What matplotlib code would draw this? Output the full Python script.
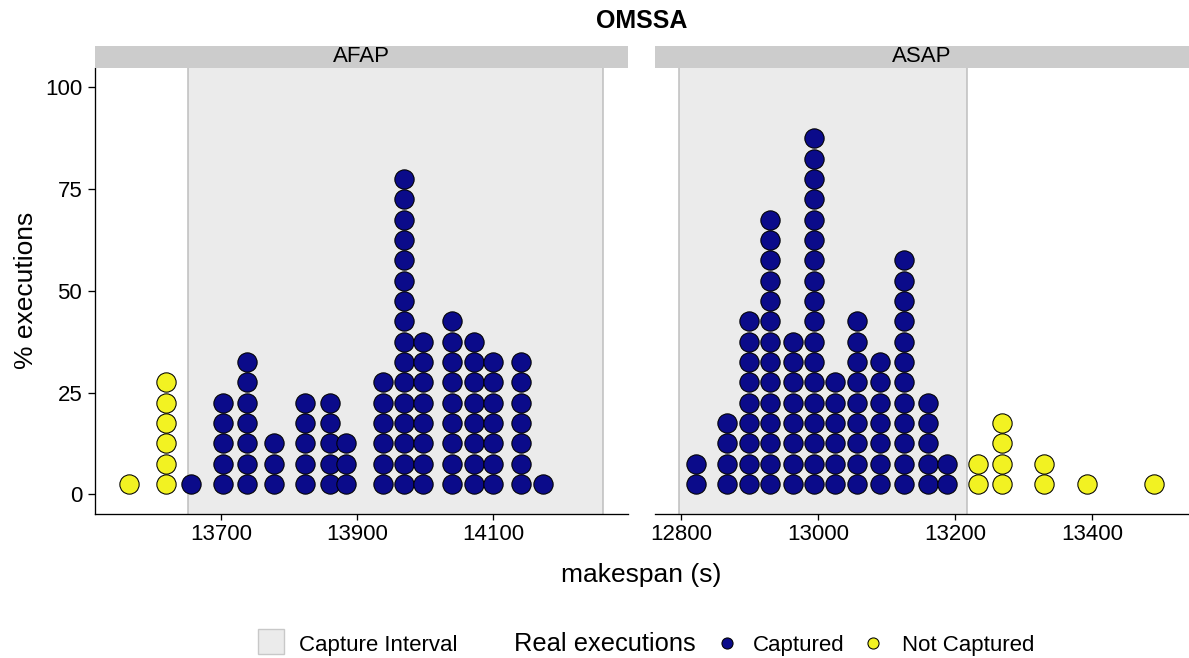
import matplotlib
matplotlib.use("Agg")
import matplotlib.pyplot as plt
from matplotlib.patches import Rectangle
from matplotlib.lines import Line2D
import numpy as np

plt.rcParams['font.family'] = ['Liberation Sans', 'DejaVu Sans']

# dot stacks: x position of each stack and number of dots in it
afap_captured_x = [13655, 13703, 13737.5, 13777, 13824, 13860, 13883.6, 13937.7,
                   13969, 13997.5, 14040, 14072.6, 14100, 14142, 14173.4]
afap_captured_n = [1, 5, 7, 3, 5, 5, 3, 6, 16, 8, 9, 8, 7, 7, 1]
afap_missed_x = [13564, 13618.4]
afap_missed_n = [1, 6]
afap_interval = [13650.4, 14262.3]
afap_ticks = [13700, 13900, 14100]

asap_captured_x = [12821.6, 12866.9, 12899, 12929.6, 12964, 12994, 13025.3,
                   13056.4, 13090, 13125.7, 13159.9, 13187.6]
asap_captured_n = [2, 4, 9, 14, 8, 18, 6, 9, 7, 12, 5, 2]
asap_missed_x = [13233.9, 13268, 13329.3, 13392, 13490.2]
asap_missed_n = [2, 4, 2, 1, 1]
asap_interval = [12797.5, 13218.2]
asap_ticks = [12800, 13000, 13200, 13400]

y_ticks = [0, 25, 50, 75, 100]
dot_step = 5

NAVY = '#0b0b8a'
YELLOW = '#f2f222'
W, H = 1189, 658


def fx(px):
    return px / W


def fy(py):
    return 1 - py / H


def draw_stacks(ax, xs, ns, color):
    for x, n in zip(xs, ns):
        ys = dot_step / 2 + dot_step * np.arange(n)
        ax.plot(np.full(n, x), ys, 'o', ms=13.9, mfc=color, mec='black', mew=0.75,
                zorder=3, clip_on=False)


def panel(ax, label, captured_x, captured_n, missed_x, missed_n, interval, ticks, xlim):
    ax.axvspan(interval[0], interval[1], facecolor='#ebebeb', edgecolor='none', zorder=0)
    for v in interval:
        ax.axvline(v, color='#bebebe', lw=1.1, zorder=1)
    draw_stacks(ax, missed_x, missed_n, YELLOW)
    draw_stacks(ax, captured_x, captured_n, NAVY)
    ax.set_xlim(*xlim)
    ax.set_ylim(-4.93, 104.85)
    ax.set_xticks(ticks)
    ax.set_xticklabels([str(t) for t in ticks])
    ax.set_yticks(y_ticks)
    for s in ['top', 'right']:
        ax.spines[s].set_visible(False)
    for s in ['left', 'bottom']:
        ax.spines[s].set_linewidth(0.95)
    ax.tick_params(axis='x', length=4.5, width=0.95, pad=2.5, labelsize=16)
    ax.tick_params(axis='y', length=4.7, width=0.95, pad=4.7, labelsize=16)

    # facet strip
    pos = ax.get_position()
    strip = fig.add_axes([pos.x0, fy(67.7), pos.width, (67.7 - 46) / H])
    strip.set_facecolor('#cccccc')
    strip.set_xticks([])
    strip.set_yticks([])
    for s in strip.spines.values():
        s.set_visible(False)
    strip.text(0.5, 0.5, label, ha='center', va='center', fontsize=16, transform=strip.transAxes)


fig = plt.figure(figsize=(W / 100, H / 100), dpi=100)

ax_left = fig.add_axes([fx(95.2), fy(514.3), (628.3 - 95.2) / W, (514.3 - 67.7) / H])
ax_right = fig.add_axes([fx(655), fy(514.3), (1188.5 - 655) / W, (514.3 - 67.7) / H])

panel(ax_left, 'AFAP', afap_captured_x, afap_captured_n, afap_missed_x, afap_missed_n,
      afap_interval, afap_ticks, (13514.5, 14299.3))
panel(ax_right, 'ASAP', asap_captured_x, asap_captured_n, asap_missed_x, asap_missed_n,
      asap_interval, asap_ticks, (12762, 13540.9))
ax_right.spines['left'].set_visible(False)
ax_right.tick_params(axis='y', left=False, labelleft=False)

# titles
fig.text(fx(641.7), fy(28.5), 'OMSSA', ha='center', va='baseline', fontsize=18, fontweight='bold')
fig.text(fx(641), fy(581.7), 'makespan (s)', ha='center', va='baseline', fontsize=19)
fig.text(fx(32.7), fy(290), '% executions', ha='center', va='baseline', fontsize=19,
         rotation=90, rotation_mode='anchor')

# legend
fig.add_artist(Rectangle((fx(258.3), fy(654.3)), 26 / W, 25 / H, transform=fig.transFigure,
                         facecolor='#ebebeb', edgecolor='#c8c8c8', lw=1.0))
fig.text(fx(299.3), fy(650.7), 'Capture Interval', ha='left', va='baseline', fontsize=16)
fig.text(fx(514), fy(651), 'Real executions', ha='left', va='baseline', fontsize=18.4)
fig.add_artist(Line2D([fx(726.7)], [fy(642.7)], marker='o', ms=8, mfc=NAVY, mec='black',
                      mew=0.75, transform=fig.transFigure))
fig.text(fx(753.3), fy(650.7), 'Captured', ha='left', va='baseline', fontsize=16)
fig.add_artist(Line2D([fx(872.7)], [fy(642.7)], marker='o', ms=8, mfc=YELLOW, mec='black',
                      mew=0.75, transform=fig.transFigure))
fig.text(fx(902), fy(650.7), 'Not Captured', ha='left', va='baseline', fontsize=16)

fig.savefig('out.png', dpi=100)
